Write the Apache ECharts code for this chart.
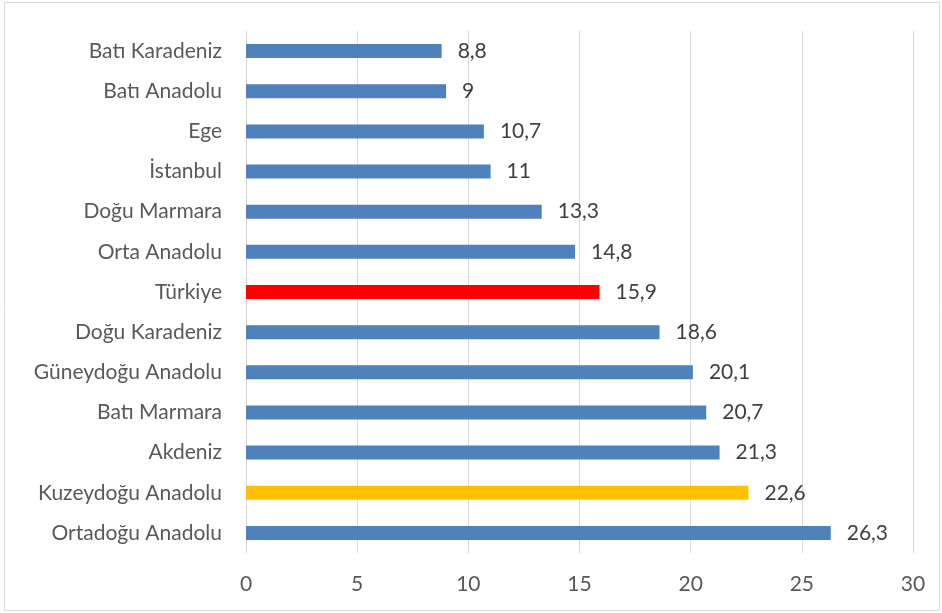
<!DOCTYPE html>
<html>
<head>
<meta charset="utf-8">
<style>
  html, body { margin: 0; padding: 0; background: #fff; }
  #chart { width: 942px; height: 613px; }
</style>
<script src="https://cdn.jsdelivr.net/npm/echarts@6/dist/echarts.min.js"></script>
</head>
<body>
<div id="chart"></div>
<script>
// bottom to top, like the category axis
const regions = ['Ortadoğu Anadolu', 'Kuzeydoğu Anadolu', 'Akdeniz', 'Batı Marmara', 'Güneydoğu Anadolu',
  'Doğu Karadeniz', 'Türkiye', 'Orta Anadolu', 'Doğu Marmara', 'İstanbul', 'Ege', 'Batı Anadolu', 'Batı Karadeniz']
const rates = [26.3, 22.6, 21.3, 20.7, 20.1, 18.6, 15.9, 14.8, 13.3, 11, 10.7, 9, 8.8]
const highlight = { 'Türkiye': '#ff0000', 'Kuzeydoğu Anadolu': '#ffc000' }

const chart = echarts.init(document.getElementById('chart'))
const font = 'Lato, Open Sans, sans-serif'

chart.setOption({
  animation: false,
  graphic: [{
    type: 'rect',
    shape: { x: 4.5, y: 2.5, width: 935, height: 608 },
    style: { fill: 'none', stroke: '#d9d9d9', lineWidth: 1 }
  }],
  grid: { left: 246, right: 29, top: 31, bottom: 60, containLabel: false },
  xAxis: {
    type: 'value',
    min: 0,
    max: 30,
    interval: 5,
    axisLine: { show: false },
    axisTick: { show: false },
    splitLine: { lineStyle: { color: '#d9d9d9', width: 1 } },
    axisLabel: { color: '#595959', fontSize: 21, fontFamily: font, margin: 21 }
  },
  yAxis: {
    type: 'category',
    data: regions,
    axisLine: { show: true, lineStyle: { color: '#d9d9d9' } },
    axisTick: { show: false },
    axisLabel: { color: '#595959', fontSize: 21, fontFamily: font, margin: 24 }
  },
  series: [{
    type: 'bar',
    barWidth: 14,
    data: rates.map((v, i) => ({
      value: v,
      itemStyle: { color: highlight[regions[i]] || '#4f81bd' }
    })),
    label: {
      show: true,
      position: 'right',
      distance: 16,
      color: '#404040',
      fontSize: 21,
      fontFamily: font,
      formatter: p => String(p.value).replace('.', ',')
    }
  }]
})
</script>
</body>
</html>
